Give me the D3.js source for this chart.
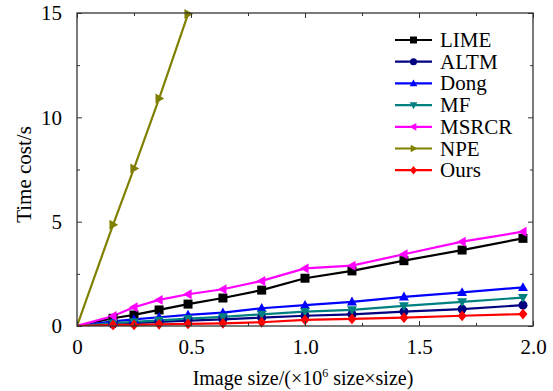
<!DOCTYPE html>
<html><head><meta charset="utf-8">
<script src="https://cdn.jsdelivr.net/npm/d3@7"></script>
<style>
body{margin:0;background:#fff;}
svg text{font-family:"Liberation Serif","Times New Roman",serif !important;fill:#000;}
</style></head>
<body><svg id="c" width="553" height="391"></svg>
<script>
const xs = [0, 0.158, 0.25, 0.36, 0.487, 0.64, 0.81, 1.0, 1.206, 1.434, 1.689, 1.956];
const LIME  = [0, 0.37, 0.53, 0.77, 1.05, 1.34, 1.72, 2.29, 2.64, 3.13, 3.64, 4.2];
const ALTM  = [0, 0.10, 0.14, 0.20, 0.26, 0.32, 0.40, 0.49, 0.56, 0.69, 0.81, 1.0];
const Dong  = [0, 0.22, 0.32, 0.42, 0.53, 0.64, 0.85, 1.0, 1.16, 1.4, 1.61, 1.85];
const MF    = [0, 0.14, 0.20, 0.27, 0.35, 0.44, 0.56, 0.69, 0.77, 0.96, 1.16, 1.36];
const MSRCR = [0, 0.48, 0.9, 1.25, 1.52, 1.76, 2.16, 2.76, 2.89, 3.44, 4.04, 4.52];
const NPE   = [0, 4.85, 7.55, 10.9, 14.95];
const Ours  = [0, 0.05, 0.05, 0.08, 0.10, 0.13, 0.18, 0.29, 0.34, 0.40, 0.49, 0.57];

const seriesNames = ["LIME","ALTM","Dong","MF","MSRCR","NPE","Ours"];
const seriesValues = [LIME, ALTM, Dong, MF, MSRCR, NPE, Ours];
const colors = ["#000000","#000080","#0000ff","#008080","#ff00ff","#808000","#ff0000"];
const shapes = ["square","circle","up","down","left","right","diamond"];

const xMajor = [0, 0.5, 1.0, 1.5, 2.0];
const xLabels = ["0", "0.5", "1.0", "1.5", "2.0"];
const xMinor = [0.25, 0.75, 1.25, 1.75];
const yMajor = [0, 5, 10, 15];
const yLabels = ["0", "5", "10", "15"];
const yMinor = [2.5, 7.5, 12.5];

const svg = d3.select("#c");
const L = 77, R = 533, T = 13, B = 326;
const x = d3.scaleLinear().domain([0, 2]).range([L, R]);
const y = d3.scaleLinear().domain([0, 15]).range([B, T]);

svg.append("defs").append("clipPath").attr("id","clip")
  .append("rect").attr("x",L).attr("y",T-1).attr("width",R-L).attr("height",B-T+1);

function markerPath(shape, s){
  const h = s/2;
  switch(shape){
    case "square": return `M${-h},${-h}H${h}V${h}H${-h}Z`;
    case "circle": return d3.symbol(d3.symbolCircle, s*s*0.8)();
    case "up": return `M0,${-h*1.15}L${h*1.1},${h*0.8}L${-h*1.1},${h*0.8}Z`;
    case "down": return `M0,${h*1.15}L${h*1.1},${-h*0.8}L${-h*1.1},${-h*0.8}Z`;
    case "left": return `M${-h*1.15},0L${h*0.8},${-h*1.1}L${h*0.8},${h*1.1}Z`;
    case "right": return `M${h*1.15},0L${-h*0.8},${-h*1.1}L${-h*0.8},${h*1.1}Z`;
    case "diamond": return `M0,${-h*1.2}L${h*1.0},0L0,${h*1.2}L${-h*1.0},0Z`;
  }
}

// series
const line = d3.line().x(d=>x(d[0])).y(d=>y(d[1]));
const plot = svg.append("g").attr("clip-path","url(#clip)");
seriesValues.forEach((vals,i)=>{
  const pts = vals.map((v,j)=>[xs[j], v]);
  plot.append("path").attr("d", line(pts)).attr("fill","none")
    .attr("stroke", colors[i]).attr("stroke-width", 2.2);
});
seriesValues.forEach((vals,i)=>{
  const pts = vals.map((v,j)=>[xs[j], v]).slice(1);
  svg.append("g").selectAll("path").data(pts).join("path")
    .attr("transform", d=>`translate(${x(d[0])},${y(d[1])})`)
    .attr("d", markerPath(shapes[i], 9)).attr("fill", colors[i]);
});

// axes
const axisColor = "#333";
function styleAxis(g){
  g.attr("font-family", null);
  g.select(".domain").remove();
  g.selectAll(".tick line").attr("stroke", axisColor).attr("stroke-width",1);
  g.selectAll(".tick text").style("font-size","21px").attr("fill","#000");
}
svg.append("g").attr("transform",`translate(0,${B})`)
  .call(d3.axisBottom(x).tickValues(xMajor).tickSizeInner(-5).tickPadding(13)
    .tickFormat((d,i)=>xLabels[i])).call(styleAxis);
svg.append("g").attr("transform",`translate(0,${B})`)
  .call(d3.axisBottom(x).tickValues(xMinor).tickSizeInner(-3).tickFormat("")).call(styleAxis);
svg.append("g").attr("transform",`translate(0,${T})`)
  .call(d3.axisTop(x).tickValues(xMajor).tickSizeInner(-5).tickFormat("")).call(styleAxis);
svg.append("g").attr("transform",`translate(0,${T})`)
  .call(d3.axisTop(x).tickValues(xMinor).tickSizeInner(-3).tickFormat("")).call(styleAxis);
svg.append("g").attr("transform",`translate(${L},0)`)
  .call(d3.axisLeft(y).tickValues(yMajor).tickSizeInner(-5).tickPadding(15)
    .tickFormat((d,i)=>yLabels[i])).call(styleAxis);
svg.append("g").attr("transform",`translate(${L},0)`)
  .call(d3.axisLeft(y).tickValues(yMinor).tickSizeInner(-3).tickFormat("")).call(styleAxis);
svg.append("g").attr("transform",`translate(${R},0)`)
  .call(d3.axisRight(y).tickValues(yMajor).tickSizeInner(-5).tickFormat("")).call(styleAxis);
svg.append("g").attr("transform",`translate(${R},0)`)
  .call(d3.axisRight(y).tickValues(yMinor).tickSizeInner(-3).tickFormat("")).call(styleAxis);

svg.append("rect").attr("x",L).attr("y",T).attr("width",R-L).attr("height",B-T)
  .attr("fill","none").attr("stroke",axisColor).attr("stroke-width",1.3);

// titles
svg.append("text").attr("transform",`translate(31,${(T+B)/2 + 5}) rotate(-90)`)
  .attr("text-anchor","middle").style("font-size","21px").text("Time cost/s");
const xt = svg.append("text").attr("x",(L+R)/2 - 2).attr("y",385)
  .attr("text-anchor","middle").style("font-size","20px");
xt.append("tspan").text("Image size/(×10");
xt.append("tspan").attr("dy",-8).style("font-size","12px").text("6");
xt.append("tspan").attr("dy",8).text(" size×size)");

// legend
const legY0 = 40, legDy = 21.7;
const leg = svg.append("g");
seriesNames.forEach((n,i)=>{
  const yy = legY0 + i*legDy;
  leg.append("line").attr("x1",395).attr("x2",432).attr("y1",yy).attr("y2",yy)
    .attr("stroke",colors[i]).attr("stroke-width",2.2);
  leg.append("path").attr("transform",`translate(413.5,${yy})`)
    .attr("d", markerPath(shapes[i], 7)).attr("fill",colors[i]);
  leg.append("text").attr("x",440).attr("y",yy+7).style("font-size","21px").text(n);
});
</script></body></html>
